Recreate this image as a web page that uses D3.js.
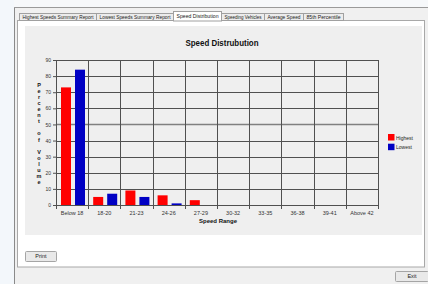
<!DOCTYPE html>
<html><head><meta charset="utf-8">
<script src="https://cdn.jsdelivr.net/npm/d3@7"></script>
<style>html,body{margin:0;padding:0;background:#f0f0f0;overflow:hidden}</style>
</head><body>
<script>
const categories = ["Below 18","18-20","21-23","24-26","27-29","30-32","33-35","36-38","39-41","Above 42"];
const seriesNames = ["Highest","Lowest"];
const highest = [73,5,9,6,3,0,0,0,0,0];
const lowest = [84,7,5,1,0,0,0,0,0,0];
const yTicks = [0,10,20,30,40,50,60,70,80,90];
const tabs = ["Highest Speeds Summary Report","Lowest Speeds Summary Report","Speed Distribution","Speeding Vehicles","Average Speed","85th Percentile"];
const colors = {Highest:"#ff0000", Lowest:"#0000c4"};

const W=428,H=284;
const svg=d3.select("body").append("svg").attr("width",W).attr("height",H)
  .style("font-family","'Liberation Sans', Arial, sans-serif");

// desktop & window
svg.append("rect").attr("width",W).attr("height",H).attr("fill","#f0f0f0");
svg.append("rect").attr("x",0).attr("y",0).attr("width",14).attr("height",H).attr("fill","#f3f7fb");
svg.append("rect").attr("x",14).attr("y",0).attr("width",W-14).attr("height",7).attr("fill","#f6f8fa");
svg.append("line").attr("x1",14.5).attr("x2",14.5).attr("y1",7).attr("y2",H).attr("stroke","#8a8a8a");
svg.append("line").attr("x1",14).attr("x2",W).attr("y1",7.5).attr("y2",7.5).attr("stroke","#9a9a9a");

// tab panel
svg.append("rect").attr("x",17.5).attr("y",20.5).attr("width",407).attr("height",246.5)
  .attr("fill","#ffffff").attr("stroke","#a8a8a8");

// tabs
const tabX=[19,96,173,221,264,303,343];
tabs.forEach((t,i)=>{
  const sel=i===2;
  const g=svg.append("g");
  g.append("rect").attr("x",tabX[i]+0.5).attr("y",sel?11.5:13.5)
    .attr("width",tabX[i+1]-tabX[i]).attr("height",sel?9.5:7)
    .attr("fill",sel?"#ffffff":"#ececec").attr("stroke","#a0a0a0");
  g.append("text").attr("x",(tabX[i]+tabX[i+1])/2+0.5).attr("y",sel?18:19)
    .attr("text-anchor","middle").attr("font-size",5.2).attr("fill","#222")
    .attr("textLength",tabX[i+1]-tabX[i]-6).attr("lengthAdjust","spacingAndGlyphs").text(t);
});

// chart area
svg.append("rect").attr("x",25).attr("y",26).attr("width",397).attr("height",209).attr("fill","#efefef");

svg.append("text").attr("x",222).attr("y",45.5).attr("text-anchor","middle")
  .attr("font-size",8.5).attr("font-weight","bold").attr("fill","#111")
  .attr("textLength",73).attr("lengthAdjust","spacingAndGlyphs").text("Speed Distrubution");

const m={l:56,r:378,t:60,b:205};
const x=d3.scaleBand().domain(categories).range([m.l,m.r]).paddingInner(0).paddingOuter(0);
const xs=d3.scaleBand().domain(seriesNames).range([5,29]).paddingInner(0.286).paddingOuter(0);
const y=d3.scaleLinear().domain([0,90]).range([m.b,m.t]);

// grid
const grid=svg.append("g");
yTicks.forEach(v=>{
  grid.append("line").attr("x1",m.l).attr("x2",m.r).attr("y1",Math.round(y(v))+0.5).attr("y2",Math.round(y(v))+0.5)
    .attr("stroke",v===50?"#808080":"#505050").attr("stroke-width",v===50?1.5:1);
});
d3.range(categories.length+1).forEach(i=>{
  const xv=Math.round(m.l+x.step()*i)+0.5;
  grid.append("line").attr("x1",xv).attr("x2",xv).attr("y1",m.t).attr("y2",m.b+4).attr("stroke","#505050");
});

// y axis
const ya=svg.append("g").attr("transform",`translate(${m.l},0)`)
  .call(d3.axisLeft(y).tickValues(yTicks).tickSize(3).tickPadding(2));
ya.select(".domain").remove();
ya.selectAll("line").attr("stroke","#505050");
ya.selectAll("text").attr("font-size",5).attr("fill","#333").attr("font-family","'Liberation Sans', Arial, sans-serif");

// x axis labels
const xa=svg.append("g").attr("transform",`translate(0,${m.b})`)
  .call(d3.axisBottom(x).tickSize(0).tickPadding(6.5));
xa.select(".domain").remove();
xa.selectAll("text").attr("font-size",5.5).attr("fill","#333").attr("font-family","'Liberation Sans', Arial, sans-serif");

// bars
const data=categories.map((c,i)=>({c,vals:[{s:"Highest",v:highest[i]},{s:"Lowest",v:lowest[i]}]}));
const gb=svg.append("g");
data.forEach(d=>{
  d.vals.filter(e=>e.v>0).forEach(e=>{
    gb.append("rect").attr("x",x(d.c)+xs(e.s)).attr("y",y(e.v)).attr("width",xs.bandwidth())
      .attr("height",y(0)-y(e.v)).attr("fill",colors[e.s]);
  });
});

// axis titles
svg.append("text").attr("x",218).attr("y",223).attr("text-anchor","middle")
  .attr("font-size",6).attr("font-weight","bold").attr("fill","#111").text("Speed Range");
const yt="Percent of Volume".split("");
yt.forEach((ch,i)=>{
  svg.append("text").attr("x",39).attr("y",87+i*6.06).attr("text-anchor","middle")
    .attr("font-size",5.5).attr("font-weight","bold").attr("fill","#111").text(ch);
});

// legend
seriesNames.forEach((s,i)=>{
  svg.append("rect").attr("x",388).attr("y",134+i*9.7).attr("width",6.5).attr("height",6.5).attr("fill",colors[s]);
  svg.append("text").attr("x",396).attr("y",139.5+i*9.7).attr("font-size",5).attr("fill","#222").text(s);
});

// buttons
function button(x0,y0,w,h,label){
  svg.append("rect").attr("x",x0+0.5).attr("y",y0+0.5).attr("width",w).attr("height",h)
    .attr("fill","#e9e9e9").attr("stroke","#a5a5a5").attr("rx",1);
  svg.append("text").attr("x",x0+w/2+0.5).attr("y",y0+h/2+2.3).attr("text-anchor","middle")
    .attr("font-size",5.5).attr("fill","#222").text(label);
}
button(25,251,31,10,"Print");
button(395,271,33,10,"Exit");
</script>
</body></html>
